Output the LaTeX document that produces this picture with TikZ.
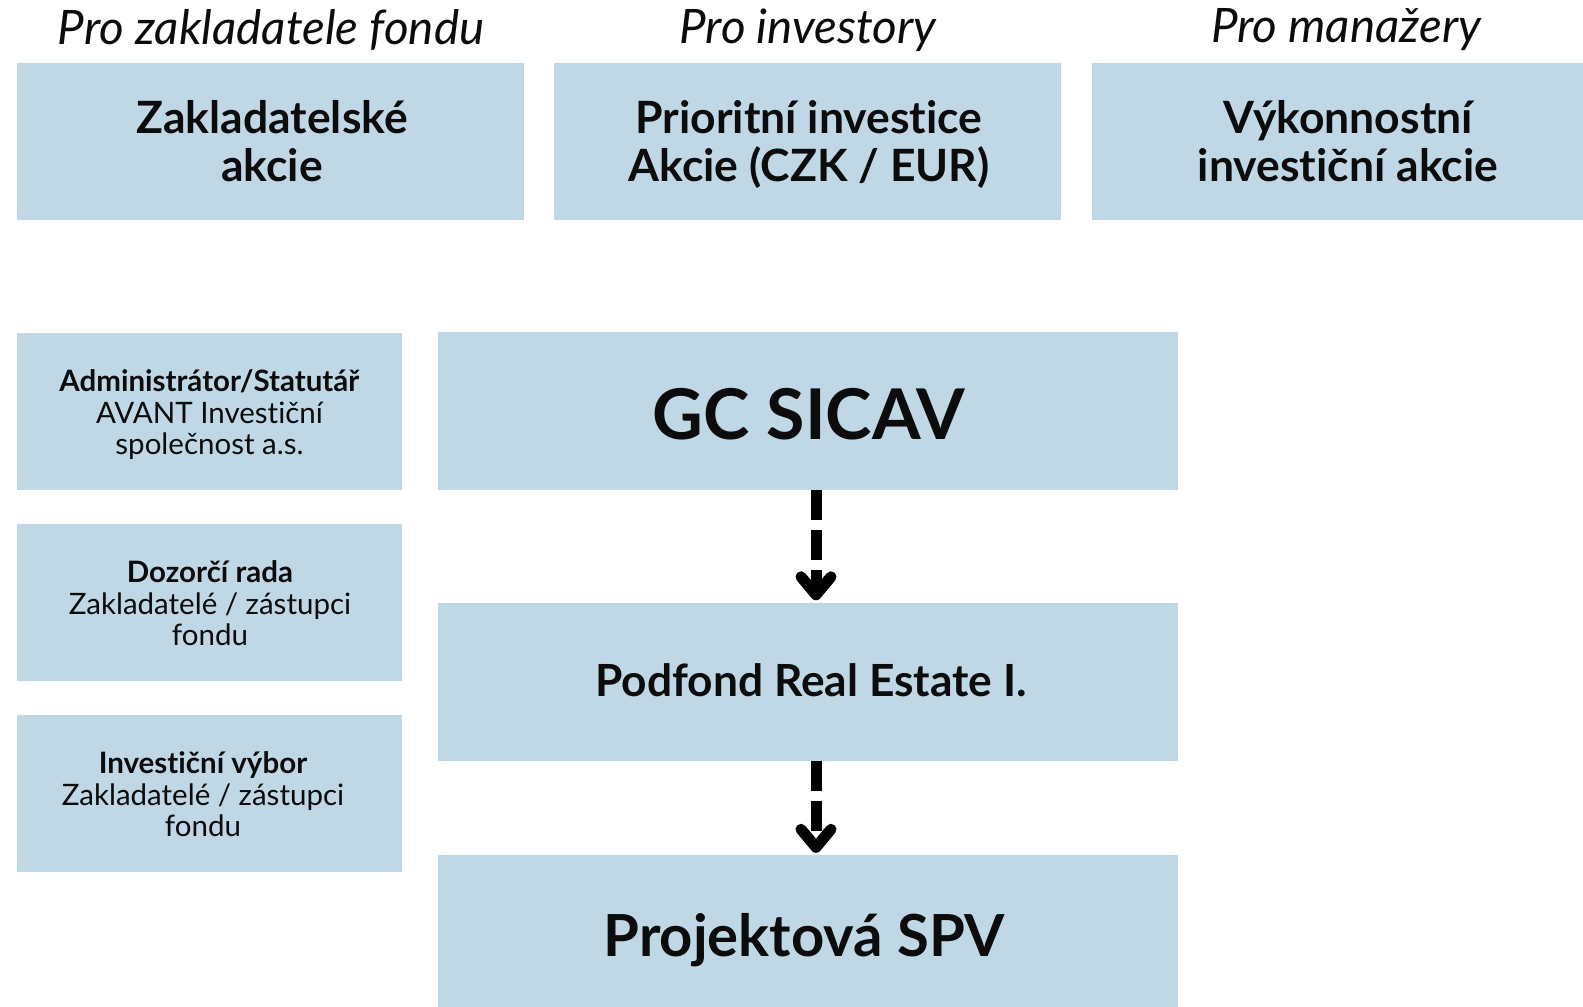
\documentclass[tikz,border=0pt]{standalone}
\usepackage{fontspec}
\setmainfont{Lato}[Ligatures={NoCommon,NoContextual}]
\usetikzlibrary{arrows.meta}
\definecolor{boxblue}{RGB}{192,215,230}
\definecolor{ink}{RGB}{12,12,12}
\newcommand{\nolig}{\kern0pt}
\begin{document}
\begin{tikzpicture}[x=1pt,y=-1pt,
  box/.style={fill=boxblue, draw=none, inner sep=0pt, align=center, text=ink, anchor=center},
  topbox/.style={box, minimum width=507pt, minimum height=157pt},
  sidebox/.style={box, minimum width=385pt, minimum height=157pt},
  mainbox/.style={box, minimum width=740pt, minimum height=158pt},
  boxtext/.style={inner sep=0pt, align=center, text=ink, anchor=center},
  header/.style={text=ink, inner sep=0pt, anchor=center, font=\fontsize{47.5}{50}\selectfont\itshape},
  flow/.style={line width=11pt, dash pattern=on 30pt off 10pt, draw=black,
     -{Straight Barb[length=18pt, width=30pt, round]}, shorten >=2pt}
]
\clip (0,0) rectangle (1583,1007);
\useasboundingbox (0,0) rectangle (1583,1007);
\fill[white] (0,0) rectangle (1583,1007);

% headers
\node[header] (h1) at (271,30) {Pro zakladatele fondu};
\node[header] (h2) at (808,30) {Pro investory};
\node[header] (h3) at (1346,30) {Pro manažery};

% top boxes
\node[topbox] (zak) at (270.5,141.5) {};
\node[topbox] (pri) at (807.5,141.5) {};
\node[topbox] (vyk) at (1345.5,141.5) {};
\begin{scope}[every node/.style={boxtext, font=\fontsize{44.5}{47.5}\selectfont\bfseries}]
\node (zakt) at (272,141) {Zakladatelské\\akcie};
\node (prit) at (809,144.5) {Priorit\nolig ní invest\nolig ice\\Akcie (CZK / EUR)};
\node (vykt) at (1348,141) {Výkonnost\nolig ní\\invest\nolig iční akcie};
\end{scope}

% side boxes
\node[sidebox] (adm) at (209.5,411) {};
\node[sidebox] (doz) at (209.5,602.5) {};
\node[sidebox] (inv) at (209.5,793.5) {};
\begin{scope}[every node/.style={boxtext, font=\fontsize{29.5}{31.5}\selectfont}]
\node (admt) at (209.5,415) {\textbf{Administrátor/Statutář}\\AVANT Invest\nolig iční\\společnost a.s.};
\node (dozt) at (210,603.5) {\textbf{Dozorčí rada}\\Zakladatelé / zástupci\\fondu};
\node (invt) at (203,794.5) {\textbf{Invest\nolig iční výbor}\\Zakladatelé / zástupci\\fondu};
\end{scope}

% main column
\node[mainbox] (gc) at (808,411) {};
\node[mainbox] (pod) at (808,681.5) {};
\node[mainbox] (spv) at (808,934) {};
\node[boxtext, font=\fontsize{70}{74}\selectfont\bfseries] (gct) at (809,414) {GC SICAV};
\node[boxtext, font=\fontsize{44.3}{48}\selectfont\bfseries] (podt) at (811,680.5) {Podfond Real Estate I.};
\node[boxtext, font=\fontsize{58}{62}\selectfont\bfseries] (spvt) at (804,940) {Projektová SPV};

% connectors
\draw[flow] ([xshift=8pt]gc.south) -- ([xshift=8pt]pod.north);
\draw[flow] ([xshift=8pt]pod.south) -- ([xshift=8pt]spv.north);
\end{tikzpicture}
\end{document}
